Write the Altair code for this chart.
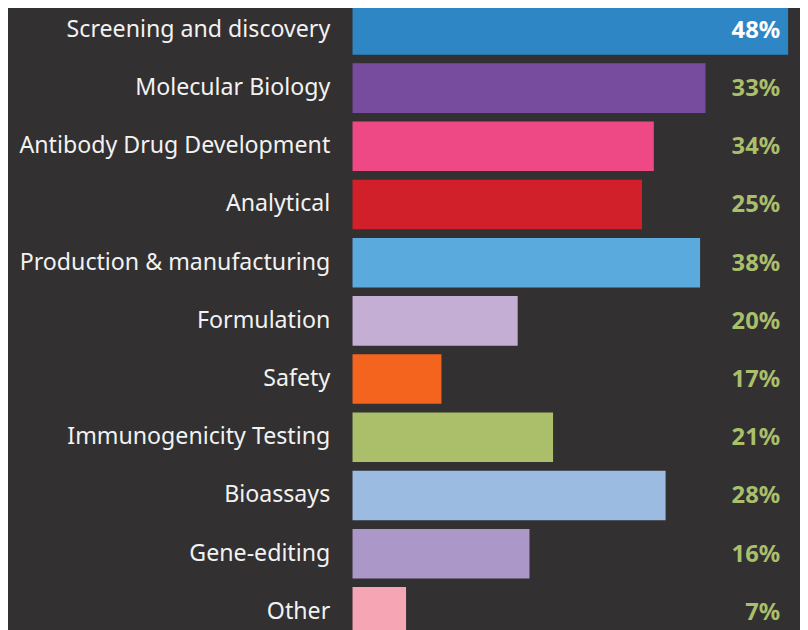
import altair as alt
import pandas as pd

categories = [
    "Screening and discovery",
    "Molecular Biology",
    "Antibody Drug Development",
    "Analytical",
    "Production & manufacturing",
    "Formulation",
    "Safety",
    "Immunogenicity Testing",
    "Bioassays",
    "Gene-editing",
    "Other",
]
bar_values = [48, 38.9, 33.2, 31.9, 38.3, 18.2, 9.8, 22.1, 34.5, 19.5, 5.9]
label_text = ["48%", "33%", "34%", "25%", "38%", "20%", "17%", "21%", "28%", "16%", "7%"]

palette = [
    "#2e87c4", "#774c9e", "#ee4985", "#d2202b", "#5aaade", "#c4aed3",
    "#f5641f", "#abbf6a", "#9bbbe1", "#ab97c8", "#f6a5b5",
]

df = pd.DataFrame({"category": categories, "value": bar_values, "label": label_text})

FONT = "Noto Sans"

y_enc = alt.Y(
    "category:N",
    sort=categories,
    scale=alt.Scale(paddingInner=0.149, paddingOuter=0.075, range=[-10.4, 636.2]),
    axis=alt.Axis(
        title=None, ticks=False, domain=False, labelPadding=23,
        labelFont=FONT, labelFontSize=23.4, labelColor="#f2f2f2", labelLimit=400,
    ),
)

bars = alt.Chart(df).mark_bar(cornerRadius=0).encode(
    y=y_enc,
    x=alt.X("value:Q", scale=alt.Scale(domain=[0, 48], range=[0, 440]), axis=None),
    color=alt.Color("category:N", sort=categories, scale=alt.Scale(domain=categories, range=palette), legend=None),
)

labels = alt.Chart(df).mark_text(
    align="right", baseline="middle", font=FONT, fontSize=24, fontWeight="bold", dy=1,
).encode(
    y=alt.Y("category:N", sort=categories),
    x=alt.value(432),
    text="label:N",
    color=alt.condition(alt.datum.category == categories[0], alt.value("#ffffff"), alt.value("#a9bf6b")),
)

chart = (
    alt.layer(bars, labels)
    .properties(
        width=452, height=622,
        autosize=alt.AutoSizeParams(type="none"),
        padding={"left": 348, "top": 0, "right": 0, "bottom": 0},
        background="#323031",
    )
    .configure_view(stroke=None)
)

chart.save("out.html", embed_options={"renderer": "svg", "actions": False})
